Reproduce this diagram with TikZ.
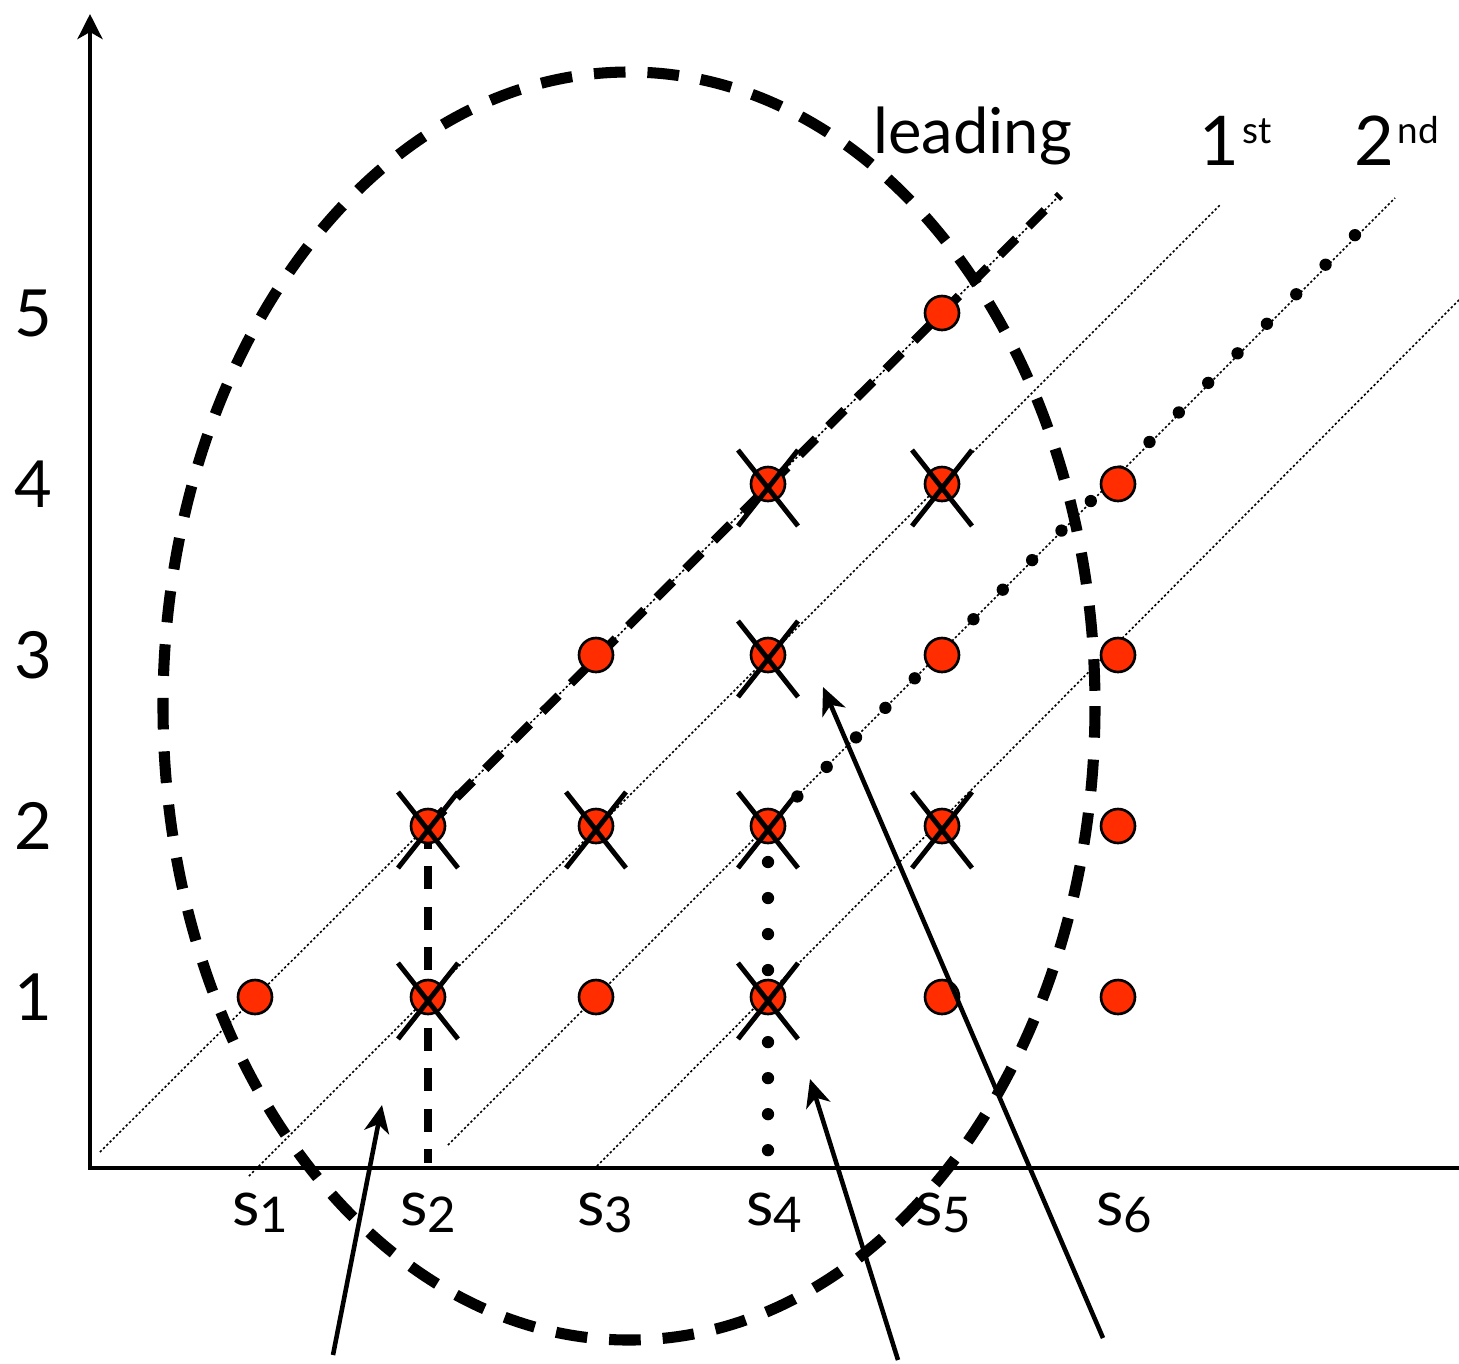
\documentclass[tikz,border=0pt]{standalone}
\usepackage{fontspec}
\setmainfont{Lato}
\usetikzlibrary{arrows.meta, calc}
\definecolor{cDot}{HTML}{FF2D00}
\newcommand{\subdigit}[1]{\raisebox{-4pt}{\fontsize{28}{28}\selectfont #1}}
\newcommand{\supword}[1]{\hspace{2pt}\raisebox{12pt}{\fontsize{21}{21}\selectfont #1}}
\tikzset{
  axisline/.style={line width=2.8pt, draw=black},
  diagline/.style={line width=0.9pt, dash pattern=on 1.3pt off 1.3pt},
  leadline/.style={line width=5pt, dash pattern=on 13pt off 10pt},
  bigdots/.style={line width=7pt, line cap=round, dash pattern=on 0pt off #1},
  ringline/.style={line width=6.3pt, dash pattern=on 18pt off 12.5pt},
  dotnode/.style={circle, draw=black, line width=1.5pt, fill=cDot,
    minimum size=0.68cm, inner sep=0pt},
  crossline/.style={line width=2.8pt},
  pointer/.style={-{Stealth[length=5.5mm, width=5mm, inset=1.6mm]}, line width=2.6pt},
  ylab/.style={font=\fontsize{37}{37}\selectfont, inner sep=0pt},
  slab/.style={font=\fontsize{36}{36}\selectfont, inner sep=0pt, anchor=base},
  toplab/.style={font=\fontsize{39}{39}\selectfont, inner sep=0pt, anchor=base east},
}

\begin{document}
\begin{tikzpicture}[x=0.02cm, y=-0.02cm]
  \useasboundingbox (0,0) rectangle (1459,1363);

  % ----------------------------------------------------------------
  % grid positions (column s_i, row j)
  % ----------------------------------------------------------------
  \foreach \c/\x in {1/255,2/428,3/596,4/768,5/942,6/1118}
    \foreach \r/\y in {1/997,2/826,3/655,4/484,5/313}
      \coordinate (g\c\r) at (\x,\y);

  % ----------------------------------------------------------------
  % thin diagonals
  % ----------------------------------------------------------------
  \coordinate (lead0) at (100,1152);  \coordinate (lead1) at (1060,195);
  \coordinate (first0) at (249,1176); \coordinate (first1) at (1220,205);
  \coordinate (second0) at (448,1145);\coordinate (second1) at (1395,198);
  \coordinate (third0) at (597,1166); \coordinate (third1) at (1459,300);

  \draw[diagline] (lead0) -- (lead1);
  \draw[diagline] (first0) -- (first1);
  \draw[diagline] (second0) -- (second1);
  \draw[diagline] (third0) -- (third1);

  % ----------------------------------------------------------------
  % highlighted paths
  % ----------------------------------------------------------------
  \coordinate (foot2) at (428,1163);
  \coordinate (foot4) at (768,1157);
  \coordinate (dotend) at (1368,222);

  \draw[leadline] (g22) -- (lead1);
  \draw[leadline] (g22) -- (foot2);
  \draw[bigdots=20.5pt] (g42) -- (foot4);
  \draw[bigdots=23.7pt] (g42) -- (dotend);

  % ----------------------------------------------------------------
  % axes
  % ----------------------------------------------------------------
  \coordinate (orig) at (90,1168);
  \coordinate (ytop) at (90,14);
  \coordinate (xend) at (1459,1168);
  \draw[axisline, {Stealth[length=5mm, width=5mm, inset=1.4mm]}-] (ytop) -- (orig) -- (xend);

  % ----------------------------------------------------------------
  % states and crossed-out states
  % ----------------------------------------------------------------
  \foreach \p in {11,21,31,41,51,61,22,32,42,52,62,33,43,53,63,44,54,64,55}
    \node[dotnode] (d\p) at (g\p) {};

  \foreach \p in {21,41,22,32,42,52,43,44,54}
    \draw[crossline] ($(d\p.center)+(-30,-34)$) -- ($(d\p.center)+(30,42)$)
                     ($(d\p.center)+(-30,42)$) -- ($(d\p.center)+(30,-34)$);

  % ----------------------------------------------------------------
  % dashed ellipse
  % ----------------------------------------------------------------
  \draw[ringline] (629,706) ellipse [x radius=466, y radius=634];

  % ----------------------------------------------------------------
  % pointers from below
  % ----------------------------------------------------------------
  \coordinate (tailA) at (333,1355); \coordinate (tipA) at (382,1105);
  \coordinate (tailB) at (898,1360); \coordinate (tipB) at (810,1079);
  \coordinate (tailC) at (1103,1338);\coordinate (tipC) at (823,687);

  \draw[pointer] (tailA) -- (tipA);
  \draw[pointer] (tailB) -- (tipB);
  \draw[pointer] (tailC) -- (tipC);

  % ----------------------------------------------------------------
  % labels
  % ----------------------------------------------------------------
  \foreach \r/\y in {1/997,2/826,3/655,4/484,5/313}
    \node[ylab] (y\r) at (33,\y) {\r};

  \foreach \c/\x in {1/260,2/428,3/605,4/774,5/943,6/1124}
    \node[slab] (s\c) at (\x,1225) {s\subdigit{\c}};

  \node[font=\fontsize{36}{36}\selectfont, inner sep=0pt, anchor=base west]
    (leadlab) at (873,153) {leading};
  \node[toplab] (firstlab) at (1272,165) {1\supword{st}};
  \node[toplab] (secondlab) at (1439,165) {2\supword{nd}};

\end{tikzpicture}
\end{document}
